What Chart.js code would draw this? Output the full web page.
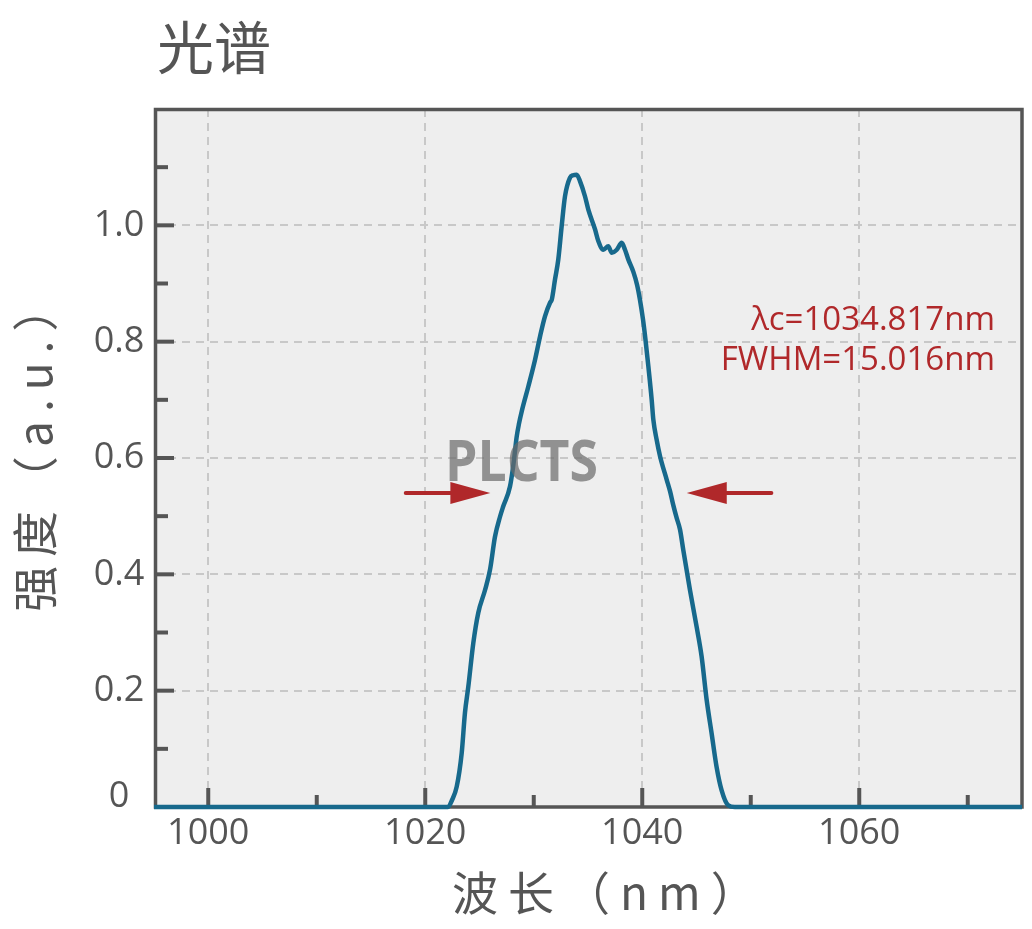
<!DOCTYPE html>
<html><head><meta charset="utf-8">
<script src="https://cdn.jsdelivr.net/npm/chart.js@4.4.1/dist/chart.umd.min.js"></script>
<style>html,body{margin:0;padding:0;background:#fff;}canvas{display:block;}</style>
</head><body>
<canvas id="c" width="1032" height="929"></canvas>
<script>
// ---- data ----
const titleText = '光谱';
const xTitle = '波长（nm）';
const yTitle = '强度（a.u.）';
const wavelength = [995, 1022.10, 1022.47, 1022.90, 1023.36, 1023.66, 1023.97, 1024.43, 1024.89, 1025.51, 1025.97,
  1026.43, 1026.89, 1027.19, 1027.81, 1028.12, 1028.43, 1028.64, 1028.89, 1029.50, 1030.12,
  1030.58, 1031.04, 1031.50, 1031.66, 1031.96, 1032.26, 1032.57, 1032.88, 1033.34, 1033.62,
  1033.96, 1034.26, 1034.72, 1035.03, 1035.65, 1035.95, 1036.41, 1036.87, 1037.19, 1037.65,
  1038.11, 1038.41, 1038.72, 1039.18, 1039.52, 1039.79, 1040.07, 1040.30, 1040.56, 1040.87,
  1041.02, 1041.33, 1041.64, 1042.25, 1042.56, 1042.86, 1043.17, 1043.48, 1043.78, 1044.40,
  1045.01, 1045.47, 1045.93, 1046.39, 1046.85, 1047.31, 1047.92, 1048.53, 1075];
const intensity = [0, 0, 0.012, 0.035, 0.093, 0.162, 0.207, 0.282, 0.334, 0.373, 0.408,
  0.465, 0.499, 0.517, 0.551, 0.588, 0.637, 0.659, 0.680, 0.723, 0.769,
  0.809, 0.844, 0.867, 0.872, 0.907, 0.941, 0.998, 1.050, 1.082, 1.086,
  1.087, 1.076, 1.050, 1.027, 0.993, 0.973, 0.958, 0.964, 0.953, 0.958,
  0.970, 0.958, 0.941, 0.920, 0.898, 0.872, 0.838, 0.803, 0.758, 0.700,
  0.666, 0.631, 0.603, 0.563, 0.543, 0.519, 0.497, 0.477, 0.442, 0.373,
  0.310, 0.259, 0.185, 0.127, 0.069, 0.029, 0.003, 0, 0];
const xMajorTicks = [1000, 1020, 1040, 1060];
const xTickLabels = ['1000', '1020', '1040', '1060'];
const xMinorTicks = [1010, 1030, 1050, 1070];
const yMajorTicks = [0, 0.2, 0.4, 0.6, 0.8, 1.0];
const yTickLabels = ['0', '0.2', '0.4', '0.6', '0.8', '1.0'];
const yMinorTicks = [0.1, 0.3, 0.5, 0.7, 0.9, 1.1];
const annotationLines = ['λc=1034.817nm', 'FWHM=15.016nm'];
const watermarkText = 'PLCTS';
const fwhmLevel = 0.54;
const arrowTails = [1018.2, 1051.9];
const arrowTips = [1026.0, 1044.1];

// ---- styles ----
const TXT = '#555555';
const RED = '#b0282a';
const CJK = "'Noto Sans CJK SC', 'Open Sans', sans-serif";
const NUM = "'Open Sans', 'Noto Sans CJK SC', sans-serif";

function spacedText(ctx, text, left, cy, spacing) {
  ctx.letterSpacing = spacing + 'px';
  ctx.textAlign = 'left';
  ctx.textBaseline = 'middle';
  ctx.fillText(text, left, cy);
  ctx.letterSpacing = '0px';
}

const deco = {
  id: 'deco',
  beforeDraw(chart) {
    const {ctx, chartArea: a} = chart;
    const xs = chart.scales.x, ys = chart.scales.y;
    ctx.save();
    ctx.fillStyle = '#ffffff';
    ctx.fillRect(0, 0, chart.width, chart.height);
    ctx.fillStyle = '#eeeeee';
    ctx.fillRect(a.left, a.top, a.right - a.left, a.bottom - a.top);
    // dashed grid
    ctx.strokeStyle = '#c8c8c8';
    ctx.lineWidth = 2;
    ctx.setLineDash([8, 6]);
    xMajorTicks.forEach(v => {
      const px = Math.round(xs.getPixelForValue(v));
      ctx.beginPath(); ctx.moveTo(px, a.top); ctx.lineTo(px, a.bottom); ctx.stroke();
    });
    yMajorTicks.forEach(v => {
      if (v === 0) return;
      const py = Math.round(ys.getPixelForValue(v));
      ctx.beginPath(); ctx.moveTo(a.left, py); ctx.lineTo(a.right, py); ctx.stroke();
    });
    ctx.setLineDash([]);
    // inward ticks
    ctx.strokeStyle = '#555555';
    ctx.lineWidth = 4;
    const tick = (x1, y1, x2, y2) => { ctx.beginPath(); ctx.moveTo(x1, y1); ctx.lineTo(x2, y2); ctx.stroke(); };
    xMajorTicks.forEach(v => { const px = xs.getPixelForValue(v); tick(px, a.bottom, px, a.bottom - 19); });
    xMinorTicks.forEach(v => { const px = xs.getPixelForValue(v); tick(px, a.bottom, px, a.bottom - 12); });
    yMajorTicks.forEach(v => { const py = ys.getPixelForValue(v); tick(a.left, py, a.left + 20, py); });
    yMinorTicks.forEach(v => { const py = ys.getPixelForValue(v); tick(a.left, py, a.left + 14, py); });
    // frame
    ctx.lineWidth = 3.5;
    ctx.strokeStyle = '#555555';
    ctx.strokeRect(a.left + 1.5, a.top + 0.5, a.right - a.left - 1.5, a.bottom - a.top - 0.5);
    // tick labels
    ctx.fillStyle = TXT;
    ctx.font = '36px ' + NUM;
    ctx.textAlign = 'center';
    ctx.textBaseline = 'middle';
    xMajorTicks.forEach((v, i) => ctx.fillText(xTickLabels[i], xs.getPixelForValue(v), a.bottom + 27));
    yMajorTicks.forEach((v, i) => {
      const py = Math.min(ys.getPixelForValue(v), a.bottom - 10);
      ctx.fillText(yTickLabels[i], a.left - 35, py);
    });
    // titles
    ctx.font = '57px ' + CJK;
    spacedText(ctx, titleText, 157, 47, 0);
    ctx.font = '46px ' + CJK;
    spacedText(ctx, xTitle, 452, 893, 10);
    ctx.save();
    ctx.translate(35, 612);
    ctx.rotate(-Math.PI / 2);
    ctx.font = '46px ' + CJK;
    spacedText(ctx, yTitle, 0, 0, 9);
    ctx.restore();
    ctx.restore();
  },
  afterDatasetsDraw(chart) {
    const {ctx, chartArea: a} = chart;
    const xs = chart.scales.x, ys = chart.scales.y;
    ctx.save();
    // watermark
    ctx.font = 'bold 58px ' + NUM;
    ctx.fillStyle = 'rgba(105,105,105,0.70)';
    ctx.textBaseline = 'middle';
    ctx.textAlign = 'left';
    const w = ctx.measureText(watermarkText).width;
    const target = 153;
    ctx.translate(a.left + 291, a.top + 355);
    ctx.scale(target / w, 1);
    ctx.fillText(watermarkText, 0, 0);
    ctx.restore();
    // arrows
    ctx.save();
    ctx.strokeStyle = RED; ctx.fillStyle = RED; ctx.lineWidth = 4; ctx.lineCap = 'round';
    const py = ys.getPixelForValue(fwhmLevel);
    arrowTips.forEach((tipV, i) => {
      const tip = xs.getPixelForValue(tipV);
      const tail = xs.getPixelForValue(arrowTails[i]);
      const dir = Math.sign(tip - tail);
      const base = tip - dir * 40;
      ctx.beginPath(); ctx.moveTo(tail, py); ctx.lineTo(base, py); ctx.stroke();
      ctx.beginPath(); ctx.moveTo(tip, py); ctx.lineTo(base, py - 11); ctx.lineTo(base, py + 11); ctx.closePath(); ctx.fill();
    });
    // annotation text
    ctx.font = '33px ' + NUM;
    ctx.textAlign = 'right';
    ctx.textBaseline = 'middle';
    annotationLines.forEach((t, i) => ctx.fillText(t, a.right - 27, a.top + 212 + i * 40));
    ctx.restore();
  }
};

new Chart(document.getElementById('c'), {
  type: 'line',
  data: {
    datasets: [{
      data: wavelength.map((x, i) => ({x, y: intensity[i]})),
      borderColor: '#17698c',
      borderWidth: 4.5,
      pointRadius: 0,
      fill: false,
      cubicInterpolationMode: 'monotone',
      clip: 6
    }]
  },
  options: {
    responsive: false,
    animation: false,
    devicePixelRatio: 1,
    layout: {padding: {left: 154, top: 109, right: 10, bottom: 122}},
    plugins: {legend: {display: false}, tooltip: {enabled: false}, title: {display: false}},
    scales: {
      x: {type: 'linear', min: 995, max: 1075, display: false},
      y: {type: 'linear', min: 0, max: 1.2, display: false}
    }
  },
  plugins: [deco]
});
</script>
</body></html>
